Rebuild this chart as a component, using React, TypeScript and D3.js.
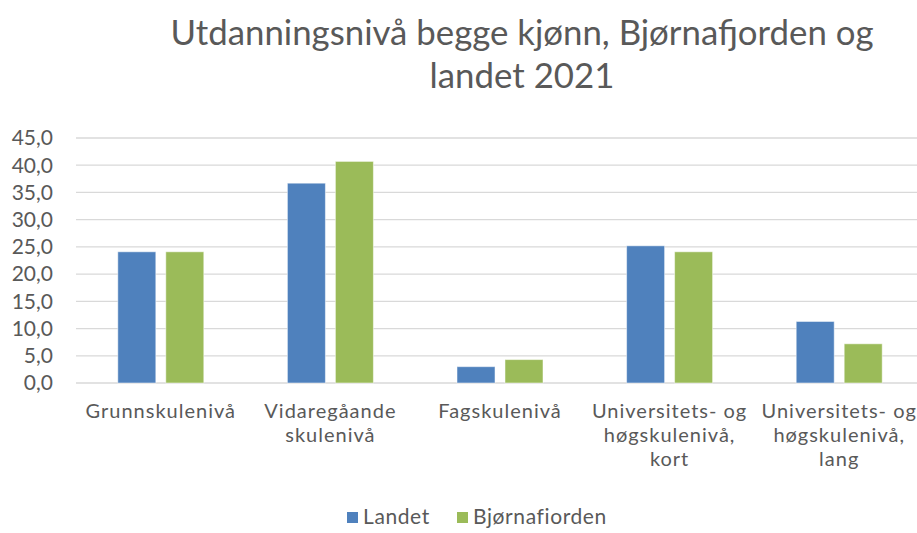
import React from "react";
import * as d3 from "d3";

const categories = [
  ["Grunnskulenivå"],
  ["Vidaregåande", "skulenivå"],
  ["Fagskulenivå"],
  ["Universitets- og", "høgskulenivå,", "kort"],
  ["Universitets- og", "høgskulenivå,", "lang"],
];
const seriesNames = ["Landet", "Bjørnafiorden"];
const landet = [24.1, 36.7, 3.0, 25.2, 11.3];
const bjornafjorden = [24.1, 40.7, 4.3, 24.1, 7.2];
const yTicks = [0, 5, 10, 15, 20, 25, 30, 35, 40, 45];
const titleLines = ["Utdanningsnivå begge kjønn, Bjørnafjorden og", "landet 2021"];

const colors = ["#4F81BD", "#9BBB59"];
const textColor = "#595959";
const font = "Lato, sans-serif";

const width = 917;
const height = 533;
const margin = { top: 138, right: -7, bottom: 150, left: 76 };

export default function App() {
  const plotW = width - margin.left - margin.right;
  const plotH = height - margin.top - margin.bottom;

  const keys = categories.map((c) => c.join(" "));
  const x0 = d3.scaleBand<string>().domain(keys).range([0, plotW]).padding(0);
  const x1 = d3
    .scaleBand<string>()
    .domain(seriesNames)
    .range([0, 86])
    .paddingInner(0.208)
    .paddingOuter(0);
  const y = d3.scaleLinear().domain([0, 45]).range([plotH, 0]);

  const values = [landet, bjornafjorden];
  const groupOffset = (x0.bandwidth() - 86) / 2;

  return (
    <svg
      width={width}
      height={height}
      style={{ position: "absolute", left: 0, top: 0, background: "#fff" }}
      fontFamily={font}
    >
      {titleLines.map((l, i) => (
        <text key={i} x={522} y={45 + i * 43} textAnchor="middle" fontSize={34.8} fill={textColor}>
          {l}
        </text>
      ))}

      <g transform={`translate(${margin.left},${margin.top})`}>
        {yTicks.map((t) => (
          <g key={t}>
            <line x1={0} x2={plotW} y1={y(t)} y2={y(t)} stroke="#d9d9d9" strokeWidth={1.3} />
            <text
              x={-23}
              y={y(t)}
              dy="0.35em"
              textAnchor="end"
              fontSize={21}
              fill={textColor}
            >
              {t.toFixed(1).replace(".", ",")}
            </text>
          </g>
        ))}

        {keys.map((k, ci) => (
          <g key={k} transform={`translate(${(x0(k) ?? 0) + groupOffset},0)`}>
            {seriesNames.map((s, si) => (
              <rect
                key={s}
                x={x1(s)}
                y={y(values[si][ci])}
                width={x1.bandwidth()}
                height={plotH - y(values[si][ci])}
                fill={colors[si]}
                stroke="#ffffff"
                strokeOpacity={0.5}
                strokeWidth={1}
              />
            ))}
          </g>
        ))}

        {categories.map((lines, ci) =>
          lines.map((l, li) => (
            <text
              key={`${ci}-${li}`}
              x={(x0(keys[ci]) ?? 0) + x0.bandwidth() / 2}
              y={plotH + 35 + li * 24}
              textAnchor="middle"
              fontSize={20}
              letterSpacing={1}
              fill={textColor}
            >
              {l}
            </text>
          ))
        )}
      </g>

      <g transform="translate(347,524)">
        {seriesNames.map((s, i) => (
          <g key={s} transform={`translate(${i * 110},0)`}>
            <rect x={0} y={-12} width={11} height={11} fill={colors[i]} />
            <text x={16} y={0} fontSize={21} letterSpacing={0.6} fill={textColor}>
              {s}
            </text>
          </g>
        ))}
      </g>
    </svg>
  );
}
